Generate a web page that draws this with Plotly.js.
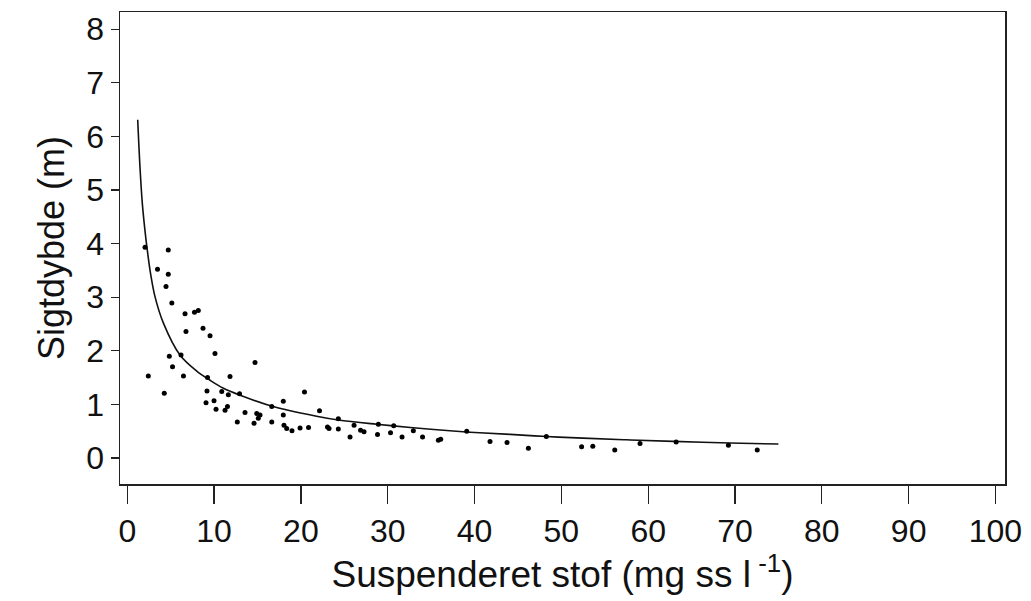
<!DOCTYPE html>
<html>
<head>
<meta charset="utf-8">
<script src="https://cdn.plot.ly/plotly-3.0.1.min.js"></script>
<style>html,body{margin:0;padding:0;background:#fff;}#chart{width:1031px;height:601px;}</style>
</head>
<body>
<div id="chart"></div>
<script>
// Observed points: suspended solids (mg ss l-1) vs Secchi depth (m)
var obsX = [2.04, 4.72, 3.48, 4.72, 4.46, 5.13, 6.65, 7.74, 8.18, 6.76,
            8.72, 9.53, 10.10, 4.84, 6.19, 5.21, 14.71, 2.42, 6.47, 9.24,
            11.83, 4.26, 9.18, 10.88, 11.64, 12.93, 20.41, 9.07, 9.99, 11.54,
            17.97, 10.22, 11.26, 13.56, 14.91, 15.29, 15.09, 16.64, 17.97, 22.14,
            24.31, 16.64, 12.67, 14.60, 18.05, 18.36, 18.97, 19.90, 20.88, 23.06,
            23.24, 24.31, 25.66, 26.12, 26.87, 27.27, 28.82, 28.92, 30.32, 30.69,
            31.65, 32.95, 34.01, 35.83, 36.10, 39.10, 41.78, 43.74, 46.20, 48.27,
            52.33, 53.62, 56.15, 59.06, 63.22, 69.24, 72.56];
var obsY = [3.93, 3.88, 3.52, 3.43, 3.20, 2.89, 2.69, 2.72, 2.75, 2.36,
            2.42, 2.28, 1.95, 1.90, 1.92, 1.70, 1.78, 1.53, 1.53, 1.50,
            1.52, 1.21, 1.25, 1.24, 1.18, 1.20, 1.23, 1.03, 1.07, 0.96,
            1.06, 0.91, 0.89, 0.85, 0.83, 0.80, 0.74, 0.96, 0.80, 0.88,
            0.73, 0.67, 0.67, 0.65, 0.61, 0.55, 0.51, 0.56, 0.57, 0.58,
            0.55, 0.54, 0.39, 0.61, 0.52, 0.49, 0.44, 0.63, 0.47, 0.60,
            0.39, 0.51, 0.39, 0.33, 0.35, 0.50, 0.31, 0.29, 0.18, 0.40,
            0.21, 0.22, 0.15, 0.27, 0.30, 0.24, 0.15];

// Fitted curve
var fitX = [1.20, 1.46, 1.73, 2.12, 2.35, 2.70, 3.19, 4.15, 6.07, 8.00,
            9.53, 11.08, 13.0, 16.8, 21.8, 24.3, 28.7, 32.6, 37.9, 40.6,
            44.1, 48.3, 52.5, 57.5, 62.9, 69.4, 75.0];
var fitY = [6.31, 5.43, 4.75, 4.12, 3.82, 3.42, 3.01, 2.52, 1.92, 1.62,
            1.45, 1.30, 1.17, 0.96, 0.78, 0.71, 0.63, 0.57, 0.50, 0.47,
            0.44, 0.40, 0.37, 0.34, 0.31, 0.28, 0.26];

var xTicks = [0, 10, 20, 30, 40, 50, 60, 70, 80, 90, 100];
var yTicks = [0, 1, 2, 3, 4, 5, 6, 7, 8];
var xTitle = 'Suspenderet stof (mg ss l<sup> -1</sup>)';
var yTitle = 'Sigtdybde (m)';

var fontFam = '"Liberation Sans", Arial, Helvetica, sans-serif';

var traces = [
  {
    x: fitX, y: fitY, type: 'scatter', mode: 'lines',
    line: {color: '#111', width: 1.6, shape: 'spline', smoothing: 1},
    hoverinfo: 'skip', showlegend: false
  },
  {
    x: obsX, y: obsY, type: 'scatter', mode: 'markers',
    marker: {color: '#000', size: 5, symbol: 'circle'},
    showlegend: false
  }
];

var layout = {
  width: 1031, height: 601,
  margin: {l: 120, r: 26, t: 12, b: 117, pad: 0},
  paper_bgcolor: '#fff', plot_bgcolor: '#fff',
  font: {family: fontFam, color: '#111', size: 32},
  showlegend: false,
  xaxis: {
    range: [-0.84, 101.1],
    tickvals: xTicks, ticktext: xTicks.map(String),
    ticks: 'outside', ticklen: 18, tickwidth: 1.3, tickcolor: '#222',
    showline: true, linecolor: '#222', linewidth: 1.5, mirror: true,
    showgrid: false, zeroline: false,
    tickfont: {family: fontFam, size: 32, color: '#111'},
    title: {text: xTitle, font: {family: fontFam, size: 37, color: '#111'}, standoff: 8}
  },
  yaxis: {
    range: [-0.485, 8.32],
    tickvals: yTicks, ticktext: yTicks.map(String),
    ticks: 'outside', ticklen: 8, tickwidth: 1.3, tickcolor: '#222',
    showline: true, linecolor: '#222', linewidth: 1.5, mirror: true,
    showgrid: false, zeroline: false,
    tickfont: {family: fontFam, size: 32, color: '#111'},
    title: {text: yTitle, font: {family: fontFam, size: 36, color: '#111'}, standoff: 10}
  }
};

Plotly.newPlot('chart', traces, layout, {staticPlot: true, displayModeBar: false});
</script>
</body>
</html>
